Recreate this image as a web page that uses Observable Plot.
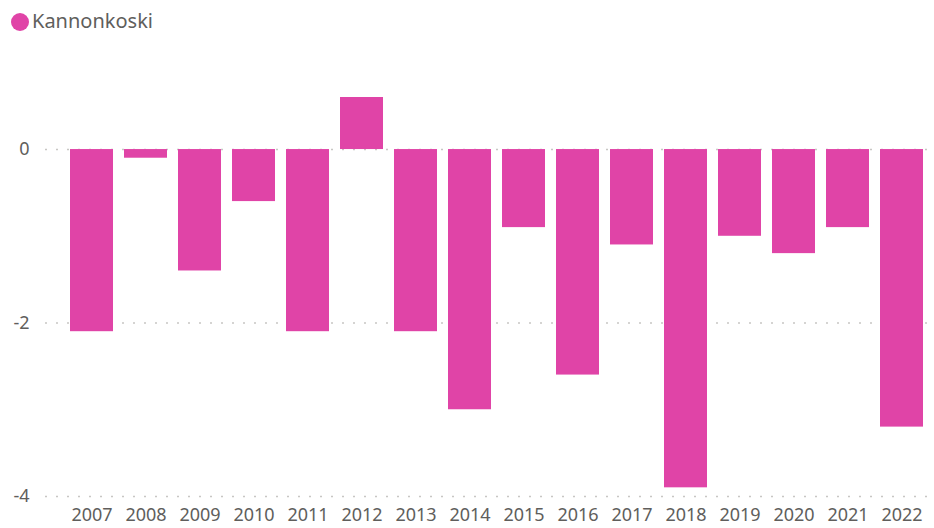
<!DOCTYPE html>
<html>
<head>
<meta charset="utf-8">
<script src="https://cdn.jsdelivr.net/npm/d3@7"></script>
<script src="https://cdn.jsdelivr.net/npm/@observablehq/plot@0.6"></script>
<style>
  html, body { margin: 0; padding: 0; background: #fff; }
  body { width: 934px; height: 528px; overflow: hidden; font-family: "Noto Sans", sans-serif; }
  #legend { position: relative; height: 44px; }
  #legend .dot { position: absolute; left: 11px; top: 13px; width: 18px; height: 18px; border-radius: 50%; background: #E044A7; }
  #legend .lbl { position: absolute; left: 32px; top: 7px; font-size: 20px; color: #605E5C; line-height: 28px; }
</style>
</head>
<body>
<div id="legend"><span class="dot"></span><span class="lbl">Kannonkoski</span></div>
<div id="chart"></div>
<script>
const seriesName = "Kannonkoski";
const years = ["2007","2008","2009","2010","2011","2012","2013","2014","2015","2016","2017","2018","2019","2020","2021","2022"];
const values = [-2.1, -0.1, -1.4, -0.6, -2.1, 0.6, -2.1, -3.0, -0.9, -2.6, -1.1, -3.9, -1.0, -1.2, -0.9, -3.2];
const yTicks = [0, -2, -4];
const barColor = "#E044A7";

const data = years.map((y, i) => ({year: y, value: values[i]}));

const chart = Plot.plot({
  width: 934,
  height: 484,
  marginLeft: 45,
  marginRight: 4,
  marginTop: 53,
  marginBottom: 32,
  style: {fontFamily: "'Noto Sans', sans-serif", fontSize: "18px", color: "#605E5C", background: "#fff"},
  x: {domain: years, range: [63.6, 929.4], padding: 0.2, paddingOuter: 0.1, label: null},
  y: {domain: [-4, 0.6], label: null},
  marks: [
    Plot.gridY(yTicks, {stroke: "#c8c6c4", strokeOpacity: 1, strokeWidth: 1.5, strokeDasharray: "2,9"}),
    Plot.barY(data, {x: "year", y: "value", fill: barColor}),
    Plot.axisX({tickSize: 0, tickPadding: 12, fontSize: 18, fill: "#605E5C", label: null}),
    Plot.axisY(yTicks, {tickSize: 0, tickPadding: 16, fontSize: 18, fill: "#605E5C", label: null, textAnchor: "end", tickFormat: d => d < 0 ? "-" + Math.abs(d) : String(d)})
  ]
});
document.getElementById("chart").appendChild(chart);
</script>
</body>
</html>
